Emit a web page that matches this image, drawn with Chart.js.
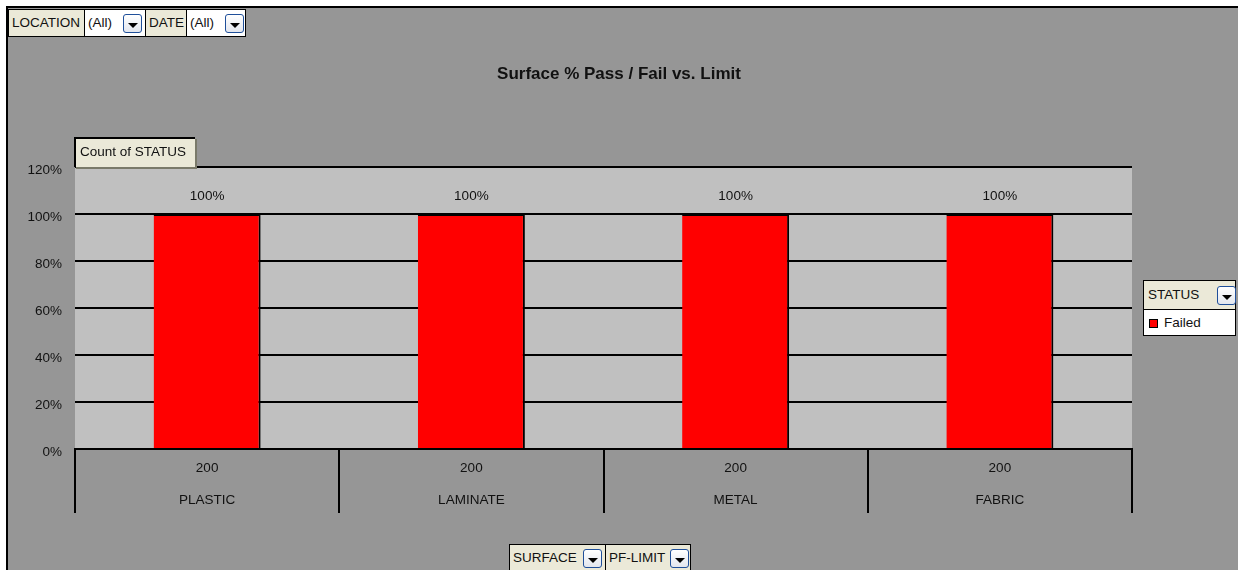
<!DOCTYPE html>
<html>
<head>
<meta charset="utf-8">
<script src="https://cdn.jsdelivr.net/npm/chart.js@4/dist/chart.umd.min.js"></script>
<style>
body{margin:0;background:#fff;font-family:"Liberation Sans",Arial,sans-serif;font-size:13.5px;color:#111;}
#wrap{position:relative;width:1238px;height:570px;overflow:hidden;}
#frame{position:absolute;left:6px;top:6px;width:1240px;height:570px;background:#969696;border-left:2px solid #000;border-top:2px solid #000;}
#box{position:absolute;left:0;top:0;width:1238px;height:570px;}
.fld{position:absolute;box-sizing:border-box;height:28px;line-height:26px;padding-left:3px;background:#ebe9d8;border:1px solid #000;white-space:nowrap;}
.val{background:#fff;}
.dd{position:absolute;box-sizing:border-box;width:19px;height:19px;border:1px solid #1f4f9a;border-radius:3px;background:linear-gradient(#ffffff,#e2e6ee);}
.dd:after{content:"";position:absolute;left:4px;top:8px;border-left:5px solid transparent;border-right:5px solid transparent;border-top:5px solid #000;}
#title{position:absolute;left:0;width:1238px;top:64px;text-align:center;font-weight:bold;font-size:17px;}
#cnt{position:absolute;left:74px;top:137px;width:121px;height:30px;box-sizing:border-box;background:#ebe9d8;border-left:2px solid #000;border-top:2px solid #000;line-height:26px;padding-left:4px;box-shadow:2px 2px 0 #7a7a6a;}
#leg{position:absolute;left:1143px;top:280px;width:93px;height:56px;box-sizing:border-box;border:1px solid #000;background:#fff;}
#leg .hd{height:29px;background:#ebe9d8;border-bottom:1px solid #000;line-height:28px;padding-left:4px;box-sizing:border-box;}
#leg .it{line-height:26px;padding-left:20px;position:relative;}
#leg .sw{position:absolute;left:5px;top:9px;width:7px;height:7px;background:#f00;border:1px solid #000;}
</style>
</head>
<body>
<div id="wrap">
  <div id="frame"></div>
  <div id="box"><canvas id="chart"></canvas></div>
  <div id="title">Surface % Pass / Fail vs. Limit</div>

  <div class="fld" style="left:8px;top:9px;width:77px;">LOCATION</div>
  <div class="fld val" style="left:84px;top:9px;width:62px;">(All)<span class="dd" style="left:38px;top:4px;"></span></div>
  <div class="fld" style="left:145px;top:9px;width:42px;">DATE</div>
  <div class="fld val" style="left:186px;top:9px;width:60px;">(All)<span class="dd" style="left:38px;top:4px;"></span></div>

  <div id="cnt">Count of STATUS</div>

  <div id="leg">
    <div class="hd">STATUS<span class="dd" style="left:73px;top:5px;"></span></div>
    <div class="it"><span class="sw"></span>Failed</div>
  </div>

  <div class="fld" style="left:509px;top:544px;width:97px;">SURFACE<span class="dd" style="left:73px;top:4px;"></span></div>
  <div class="fld" style="left:605px;top:544px;width:86px;">PF-LIMIT<span class="dd" style="left:64px;top:4px;"></span></div>
</div>
<script>
// values
var surfaces = ["PLASTIC", "LAMINATE", "METAL", "FABRIC"];
var pfLimits = ["200", "200", "200", "200"];
var failedPct = [100, 100, 100, 100];
var yTicks = [0, 20, 40, 60, 80, 100, 120];

var labels = [];
for (let i = 0; i < surfaces.length; i++) {
    labels.push([pfLimits[i], surfaces[i]]);
}

const plotBg = {
    id: "plotBg",
    beforeDraw: function (chart) {
        const a = chart.chartArea;
        const ctx = chart.ctx;
        ctx.save();
        ctx.fillStyle = "#c0c0c0";
        ctx.fillRect(a.left, a.top, a.right - a.left, a.bottom - a.top);
        ctx.restore();
    }
};

const valueLabels = {
    id: "valueLabels",
    afterDatasetsDraw: function (chart) {
        const ctx = chart.ctx;
        const meta = chart.getDatasetMeta(0);
        ctx.save();
        ctx.font = "13.5px 'Liberation Sans', Arial, sans-serif";
        ctx.fillStyle = "#111";
        ctx.textAlign = "center";
        ctx.textBaseline = "middle";
        meta.data.forEach(function (bar, i) {
            ctx.fillText(failedPct[i] + "%", bar.x, bar.y - 18);
        });
        ctx.restore();
    }
};

new Chart(document.getElementById("chart"), {
    type: "bar",
    data: {
        labels: labels,
        datasets: [{
            label: "Failed",
            data: failedPct,
            backgroundColor: "#ff0000",
            borderColor: "#000",
            borderWidth: {top: 2, right: 2, left: 0, bottom: 0},
            borderSkipped: false,
            categoryPercentage: 1,
            barPercentage: 0.405
        }]
    },
    options: {
        responsive: true,
        maintainAspectRatio: false,
        animation: false,
        layout: {padding: {top: 167, right: 106, left: 0, bottom: 0}},
        plugins: {
            legend: {display: false},
            tooltip: {enabled: false}
        },
        scales: {
            x: {
                z: 1,
                offset: true,
                grid: {
                    offset: true,
                    drawOnChartArea: false,
                    drawTicks: true,
                    tickLength: 64,
                    color: "#000",
                    lineWidth: 2
                },
                border: {display: true, color: "#000", width: 2},
                ticks: {
                    padding: -61,
                    color: "#111",
                    font: {family: "'Liberation Sans', Arial, sans-serif", size: 13.5, lineHeight: 2.4},
                    maxRotation: 0
                },
                afterFit: function (s) { s.height = 121; }
            },
            y: {
                min: 0,
                max: 120,
                afterBuildTicks: function (s) {
                    s.ticks = yTicks.map(function (v) { return {value: v}; });
                },
                grid: {color: "#000", lineWidth: 2, drawTicks: false},
                border: {display: false},
                ticks: {
                    padding: 13,
                    labelOffset: 3,
                    color: "#111",
                    font: {family: "'Liberation Sans', Arial, sans-serif", size: 13.5},
                    callback: function (v) { return v + "%"; }
                },
                afterFit: function (s) { s.width = 75; }
            }
        }
    },
    plugins: [plotBg, valueLabels]
});
</script>
</body>
</html>
